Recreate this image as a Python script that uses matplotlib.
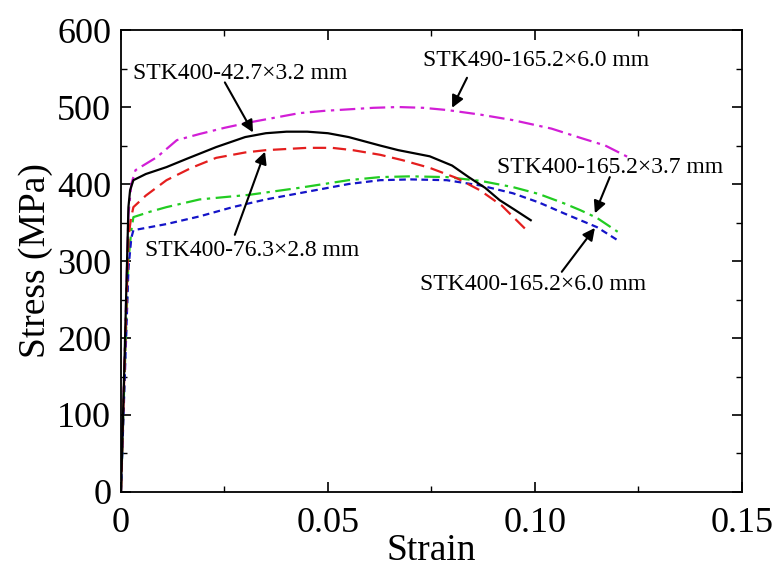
import numpy as np
import matplotlib.pyplot as plt
from matplotlib.ticker import MultipleLocator

plt.rcParams['font.family'] = ['Liberation Serif', 'DejaVu Serif']

# Кривые напряжение-деформация
strain_427 = [0, 0.0008, 0.0018, 0.0022, 0.003, 0.006, 0.011, 0.016, 0.023, 0.030, 0.035, 0.040,
              0.045, 0.050, 0.055, 0.0626, 0.067, 0.0746, 0.080, 0.084, 0.088, 0.0915, 0.095, 0.099]
stress_427 = [0, 160, 370, 392, 405, 413, 422, 433, 448, 461, 466, 468,
              468, 466, 461, 450, 444, 436, 424, 409, 395, 379, 367, 353]

strain_763 = [0, 0.0008, 0.0018, 0.0024, 0.003, 0.006, 0.011, 0.017, 0.023, 0.030, 0.035, 0.045,
              0.051, 0.056, 0.0626, 0.068, 0.0746, 0.081, 0.0867, 0.092, 0.098]
stress_763 = [0, 150, 330, 355, 370, 385, 405, 421, 434, 441, 444, 447,
              447, 444, 438, 431, 421, 408, 392, 372, 340]

strain_490 = [0, 0.0008, 0.0018, 0.0025, 0.0035, 0.0087, 0.0135, 0.019, 0.025, 0.031, 0.037, 0.043,
              0.049, 0.055, 0.061, 0.067, 0.073, 0.079, 0.087, 0.0947, 0.104, 0.111, 0.117, 0.1225]
stress_490 = [0, 160, 360, 400, 418, 435, 457, 465, 473, 480, 486, 492,
              495, 497, 499, 500, 499, 496, 490, 483, 472, 460, 450, 435]

strain_37 = [0, 0.0008, 0.0018, 0.0025, 0.003, 0.007, 0.011, 0.019, 0.031, 0.043, 0.055, 0.0626,
             0.070, 0.0787, 0.087, 0.0947, 0.101, 0.107, 0.111, 0.115, 0.120]
stress_37 = [0, 140, 300, 340, 357, 364, 370, 380, 386, 395, 405, 409,
             410, 409, 404, 396, 387, 375, 366, 356, 338]

strain_60 = [0, 0.0008, 0.0018, 0.0025, 0.003, 0.007, 0.011, 0.019, 0.027, 0.035, 0.043, 0.055,
             0.0626, 0.070, 0.0787, 0.087, 0.0947, 0.101, 0.107, 0.111, 0.115, 0.120]
stress_60 = [0, 130, 290, 330, 340, 344, 348, 358, 370, 380, 388, 400,
             405, 406, 405, 398, 388, 376, 362, 353, 344, 327]

# Подписи и стрелки: (текст, позиция текста, начало стрелки, конец стрелки)
labels = ['STK400-42.7×3.2 mm', 'STK490-165.2×6.0 mm', 'STK400-76.3×2.8 mm',
          'STK400-165.2×3.7 mm', 'STK400-165.2×6.0 mm']
label_pos = [(0.0029, 544), (0.073, 561), (0.0058, 314), (0.0908, 421), (0.0722, 269)]
arrow_from = [(0.0251, 532), (0.0836, 538), (0.0275, 334), (0.1181, 409), (0.1065, 286)]
arrow_to = [(0.0319, 467), (0.080, 499), (0.0348, 442), (0.1145, 362), (0.1145, 343)]

fig = plt.figure(figsize=(7.78, 5.67), dpi=100)
ax = fig.add_axes([0.1555, 0.1323, 0.798, 0.8147])

ax.plot(strain_490, stress_490, color='#d21ed6', lw=1.6, dashes=(7, 2.5, 1.5, 2.5))
ax.plot(strain_37, stress_37, color='#22cc22', lw=1.6, dashes=(7, 2.5, 1.5, 2.5))
ax.plot(strain_60, stress_60, color='#1414c8', lw=1.6, dashes=(3, 2))
ax.plot(strain_763, stress_763, color='#e41e1e', lw=1.6, dashes=(6, 3))
ax.plot(strain_427, stress_427, color='black', lw=1.6)

for txt, p, a, b in zip(labels, label_pos, arrow_from, arrow_to):
    ax.text(p[0], p[1], txt, fontsize=17, ha='left', va='center')
    ax.annotate('', xy=b, xytext=a,
                arrowprops=dict(arrowstyle='-|>', color='black', lw=1.5,
                                mutation_scale=18, shrinkA=0, shrinkB=0))

ax.set_xlim(0, 0.15)
ax.set_ylim(0, 600)
ax.set_xticks([0, 0.05, 0.10, 0.15])
ax.set_xticklabels(['0', '0.05', '0.10', '0.15'])
ax.xaxis.set_minor_locator(MultipleLocator(0.025))
ax.yaxis.set_minor_locator(MultipleLocator(50))
ax.tick_params(which='both', direction='in', top=True, right=True, labelsize=26)
ax.tick_params(which='major', length=7, width=1.2)
ax.tick_params(which='minor', length=4, width=1.0)
ax.tick_params(axis='x', which='major', pad=11)
ax.tick_params(axis='y', which='major', pad=7)
for s in ax.spines.values():
    s.set_linewidth(1.3)

ax.set_xlabel('Strain', fontsize=27, labelpad=-5)
ax.set_ylabel('Stress (MPa)', fontsize=27, labelpad=3)

plt.savefig('out.png', dpi=100)
